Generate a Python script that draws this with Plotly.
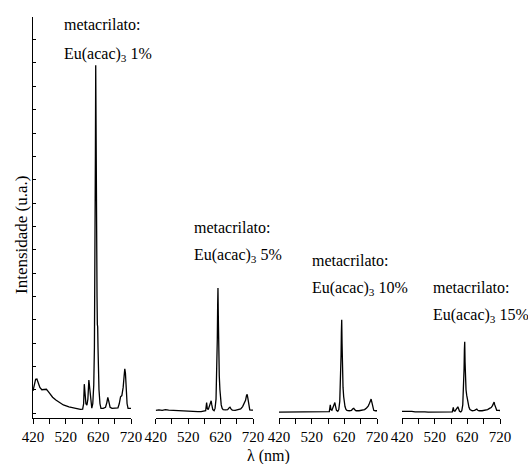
import plotly.graph_objects as go

# ---------------- data (intensity in axis tick units) ----------------
wl_1 = [420, 424, 428, 432, 436, 441, 447, 454, 461, 467, 473, 480, 490, 500, 513, 530, 550, 565,
        572, 575, 577, 579, 582, 585, 588, 591, 593, 596, 600, 603, 606, 608, 610, 611, 612, 613,
        614, 615, 616, 617, 618, 619, 620, 622, 625, 628, 635, 642, 646, 649, 652, 656, 662, 672,
        680, 684, 688, 692, 696, 699, 701, 703, 705, 708, 711, 715, 720]
int_1 = [0.95, 1.3, 1.45, 1.46, 1.3, 1.1, 1.0, 1.02, 1.02, 0.92, 0.8, 0.68, 0.56, 0.46, 0.35, 0.27, 0.2, 0.16,
         0.17, 0.4, 1.24, 0.8, 0.4, 0.34, 0.6, 1.42, 1.1, 0.5, 0.21, 0.4, 1.2, 2.8, 6.5, 11.0, 14.9, 10.0,
         7.4, 7.3, 5.0, 3.8, 3.7, 2.8, 2.0, 1.0, 0.4, 0.2, 0.2, 0.25, 0.45, 0.67, 0.5, 0.25, 0.2, 0.2,
         0.22, 0.4, 0.7, 0.75, 1.1, 1.6, 1.9, 1.7, 1.0, 0.4, 0.2, 0.2, 0.2]

wl_doped = [420, 430, 440, 450, 460, 470, 480, 490, 500, 510, 520, 530, 540, 550, 560, 570, 574, 577,
            579, 582, 585, 588, 591, 593, 596, 600, 603, 606, 608, 610, 611, 612, 613, 614, 615, 616,
            618, 620, 622, 625, 628, 635, 642, 646, 649, 652, 656, 665, 675, 682, 688, 693, 697, 700,
            702, 704, 707, 710, 715, 720]
int_5 = [0.12, 0.14, 0.12, 0.15, 0.13, 0.12, 0.1, 0.1, 0.09, 0.08, 0.07, 0.07, 0.06, 0.06, 0.06, 0.07, 0.1, 0.45,
         0.2, 0.15, 0.25, 0.4, 0.53, 0.35, 0.15, 0.1, 0.2, 0.6, 1.5, 3.2, 4.6, 5.36, 4.2, 2.8, 2.7, 1.6,
         1.0, 0.6, 0.35, 0.2, 0.15, 0.14, 0.15, 0.22, 0.25, 0.18, 0.13, 0.12, 0.14, 0.18, 0.28, 0.4, 0.55, 0.75,
         0.8, 0.65, 0.3, 0.14, 0.13, 0.13]
int_10 = [0.04, 0.04, 0.05, 0.04, 0.04, 0.04, 0.04, 0.04, 0.03, 0.03, 0.03, 0.03, 0.03, 0.03, 0.03, 0.04, 0.06, 0.35,
          0.15, 0.12, 0.22, 0.38, 0.45, 0.3, 0.12, 0.08, 0.15, 0.5, 1.2, 2.5, 3.5, 4.0, 3.0, 2.0, 1.9, 1.1,
          0.7, 0.45, 0.28, 0.16, 0.12, 0.1, 0.12, 0.18, 0.2, 0.14, 0.1, 0.1, 0.12, 0.15, 0.22, 0.3, 0.42, 0.55,
          0.6, 0.48, 0.22, 0.12, 0.1, 0.1]
int_15 = [0.07, 0.08, 0.06, 0.07, 0.05, 0.06, 0.05, 0.05, 0.04, 0.04, 0.03, 0.03, 0.03, 0.03, 0.03, 0.03, 0.05, 0.24,
          0.1, 0.08, 0.15, 0.22, 0.27, 0.2, 0.08, 0.05, 0.1, 0.35, 0.9, 1.9, 2.7, 3.06, 2.2, 1.4, 1.34, 1.0,
          0.77, 0.55, 0.4, 0.25, 0.15, 0.1, 0.12, 0.16, 0.17, 0.12, 0.1, 0.1, 0.12, 0.15, 0.2, 0.24, 0.32, 0.45,
          0.47, 0.35, 0.18, 0.12, 0.12, 0.11]

panel_labels = ["Eu(acac)<sub>3</sub> 1%", "Eu(acac)<sub>3</sub> 5%",
                "Eu(acac)<sub>3</sub> 10%", "Eu(acac)<sub>3</sub> 15%"]
x_major_ticks = [420, 520, 620, 720]
x_minor_ticks = [470, 570, 670]

# ---------------- layout helpers ----------------
W, H = 528, 464
L, R, T, B = 33, 28, 17, 46
PW, PH = W - L - R, H - T - B

def px(X):
    return (X - L) / PW

def py(Y):
    return (H - B - Y) / PH

FONT = "Liberation Serif, Times New Roman, serif"

fig = go.Figure()
series = [(wl_1, int_1), (wl_doped, int_5), (wl_doped, int_10), (wl_doped, int_15)]
axes_names = ["x", "x2", "x3", "x4"]
for (xs, ys), ax in zip(series, axes_names):
    fig.add_trace(go.Scatter(x=xs, y=ys, mode="lines", xaxis=ax, yaxis="y",
                             line=dict(color="black", width=1.3), showlegend=False,
                             hoverinfo="x+y"))

domains_px = [(33, 131), (155.7, 253), (279, 377), (402, 500)]
xaxis_common = dict(range=[420, 720], tickmode="array", tickvals=x_major_ticks,
                    ticks="outside", ticklen=5, tickwidth=1, tickcolor="black",
                    minor=dict(tickmode="array", tickvals=x_minor_ticks, ticks="outside",
                               ticklen=5, tickwidth=1, tickcolor="black", showgrid=False),
                    showline=True, linecolor="black", linewidth=1, showgrid=False,
                    zeroline=False, anchor="y",
                    tickfont=dict(family=FONT, size=15, color="black"))
layout_axes = {}
for i, (a, b) in enumerate(domains_px):
    key = "xaxis" if i == 0 else f"xaxis{i+1}"
    layout_axes[key] = dict(xaxis_common, domain=[max(0, px(a)), min(1, px(b))])

fig.update_layout(
    width=W, height=H,
    margin=dict(l=L, r=R, t=T, b=B),
    paper_bgcolor="white", plot_bgcolor="white",
    yaxis=dict(range=[-0.21, 16.97], tick0=0, dtick=1, ticks="inside", ticklen=3,
               tickcolor="black", showticklabels=False, showline=True, linecolor="black",
               linewidth=1, showgrid=False, zeroline=False, anchor="x"),
    **layout_axes,
)

ann_pos = [(62, 25, 54), (191.5, 227, 255), (310, 260, 288), (431, 287, 315)]
for (X, Y1, Y2), lab in zip(ann_pos, panel_labels):
    fig.add_annotation(text="metacrilato:", xref="paper", yref="paper", x=px(X), y=py(Y1),
                       xanchor="left", yanchor="middle", showarrow=False,
                       font=dict(family=FONT, size=16, color="black"))
    fig.add_annotation(text=lab, xref="paper", yref="paper", x=px(X), y=py(Y2),
                       xanchor="left", yanchor="middle", showarrow=False,
                       font=dict(family=FONT, size=16, color="black"))

fig.add_annotation(text="λ (nm)", xref="paper", yref="paper", x=px(268), y=py(456),
                   xanchor="center", yanchor="middle", showarrow=False,
                   font=dict(family=FONT, size=16, color="black"))
fig.add_annotation(text="Intensidade (u.a.)", xref="paper", yref="paper", x=px(21), y=py(235),
                   xanchor="center", yanchor="middle", showarrow=False, textangle=-90,
                   font=dict(family=FONT, size=17, color="black"))

fig.write_html("out.html", config={"displayModeBar": False},
               post_script="document.body.style.margin='0px';document.body.style.padding='0px';")
